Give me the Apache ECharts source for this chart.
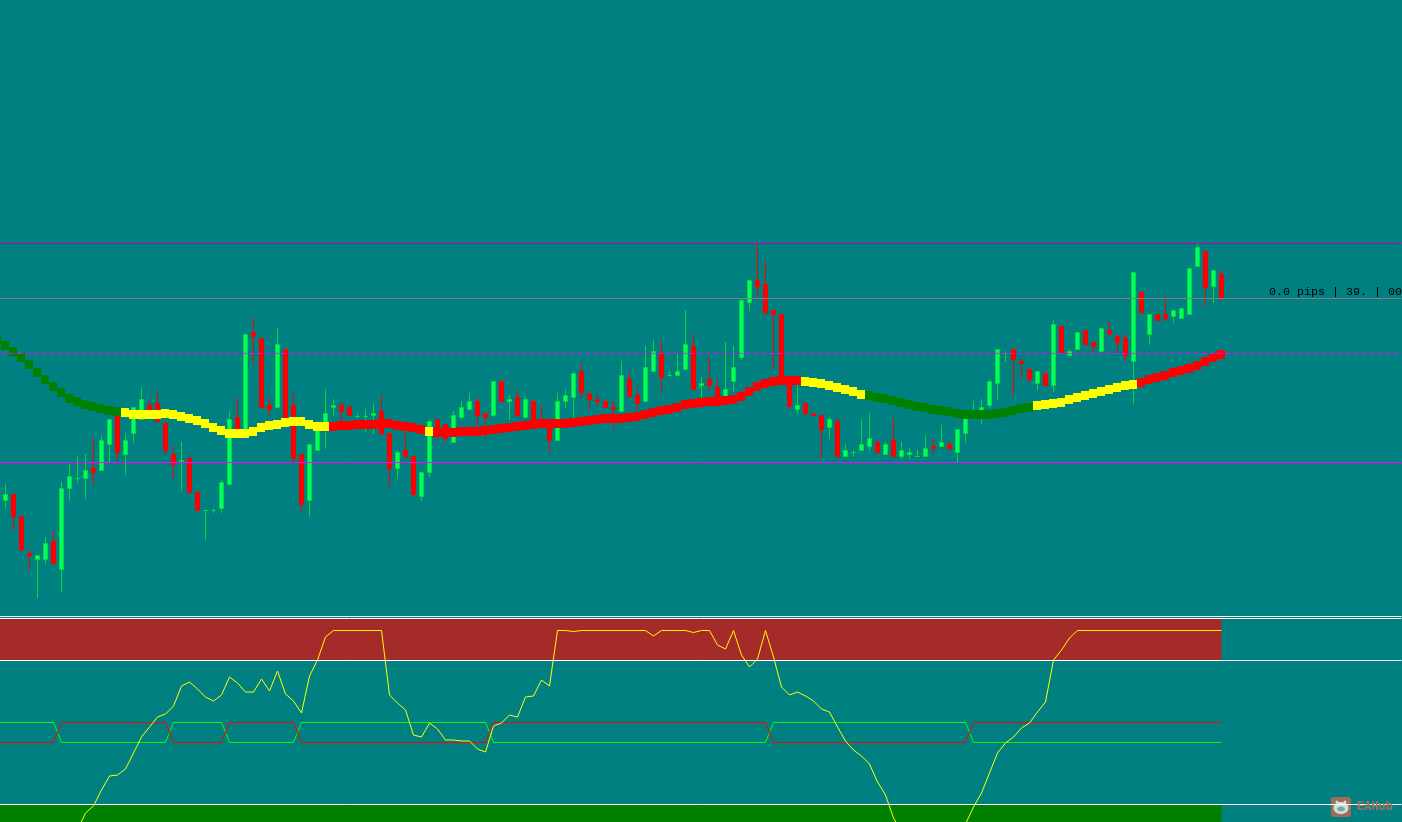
<!DOCTYPE html>
<html>
<head>
<meta charset="utf-8">
<style>html,body{margin:0;padding:0;background:#008080;overflow:hidden}#c{width:1402px;height:822px}</style>
<script src="https://cdn.jsdelivr.net/npm/echarts@6/dist/echarts.min.js"></script>
</head>
<body>
<div id="c"></div>
<script>
// Price in points above the foot of the price window: [open, close, low, high]
const candles = [
[115,122,107,132],[122,99,86,122],[100,66,64,100],[63,60,46,67],[56,61,18,61],[56,73,52,79],[75,52,52,85],[46,128,24,134],
[127,140,115,152],[138,138,133,160],[137,146,117,162],[148,143,131,178],[145,176,145,181],[171,197,154,197],[202,163,155,202],[161,176,141,183],
[182,209,173,209],[196,217,196,229],[211,198,198,215],[213,194,194,225],[193,165,161,195],[162,151,137,170],[154,156,125,174],[158,123,123,160],
[124,105,105,124],[106,106,76,106],[106,106,103,108],[107,134,103,136],[131,197,131,205],[199,181,181,219],[186,282,186,282],[284,279,252,298],
[278,208,208,278],[211,206,200,219],[208,272,208,288],[267,196,196,267],[211,157,154,223],[162,111,103,162],[115,172,99,172],[165,191,165,195],
[188,203,167,227],[208,211,200,217],[211,204,194,213],[209,200,200,211],[200,200,198,203],[200,200,184,207],[200,203,182,213],[205,182,180,221],
[183,147,129,183],[147,164,137,166],[166,159,157,183],[160,121,119,160],[119,144,115,144],[143,195,139,197],[197,179,175,197],[192,177,173,192],
[173,201,173,205],[198,209,196,215],[206,215,206,223],[215,200,188,219],[203,198,177,203],[200,235,200,235],[235,214,214,235],[214,217,196,221],
[219,200,198,225],[198,217,198,219],[215,189,189,215],[196,190,189,211],[192,175,163,192],[175,215,175,223],[214,221,208,227],[218,243,189,245],
[245,223,218,253],[223,216,206,223],[217,214,210,221],[215,208,208,215],[209,206,187,215],[204,241,204,255],[237,219,219,245],[221,212,199,229],
[214,249,214,270],[244,265,244,276],[263,238,223,276],[241,241,241,245],[240,245,240,262],[246,272,246,306],[270,226,226,282],[230,233,218,239],
[237,230,226,259],[229,219,219,237],[219,227,219,274],[234,249,224,270],[258,316,256,317],[313,336,305,336],[336,329,317,373],[332,303,301,356],
[306,301,247,306],[302,236,236,302],[236,209,207,236],[206,211,202,231],[213,202,200,213],[203,200,200,203],[201,186,157,201],[188,197,177,199],
[195,159,159,197],[159,166,159,172],[164,164,159,166],[165,172,165,197],[169,178,165,203],[174,163,163,176],[161,172,161,174],[176,159,159,197],
[159,166,157,174],[161,164,157,168],[160,160,160,166],[159,168,159,181],[170,167,163,178],[169,174,169,191],[172,167,165,174],[163,187,154,187],
[182,199,173,199],[199,203,196,215],[197,209,192,217],[210,235,208,237],[232,267,216,267],[263,263,254,265],[267,256,220,267],[255,252,238,257],
[247,236,234,247],[232,245,226,245],[243,230,230,243],[230,292,224,296],[290,263,263,290],[260,265,260,267],[266,284,266,284],[286,271,271,286],
[274,269,264,274],[264,288,264,288],[286,281,281,294],[280,273,262,282],[278,260,254,282],[254,344,212,344],[324,303,303,324],[281,302,271,302],
[302,295,295,302],[302,297,295,320],[299,306,293,306],[297,308,297,308],[301,348,301,348],[349,369,349,372],[365,328,309,365],[329,346,313,346],
[342,317,315,346]
];
// Moving average: the first value belongs to the bar just off the left edge
const movingAverage = [
276.5,270.5,264.5,258.5,251.5,243.5,236.5,229.5,223.5,217.5,214.5,211.5,209.5,207.5,205.5,204.5,
203.5,201.5,201.5,201.5,201.5,202.5,201.5,199.5,197.5,195.5,192.5,188.5,185.5,182.5,182.5,182.5,
184.5,188.5,190.5,191.5,193.5,194.5,194.5,191.5,189.5,189.5,189.5,190.5,190.5,191.5,191.5,191.5,
192.5,192.5,190.5,189.5,188.5,186.5,184.5,183.5,184.5,183.5,184.5,184.5,184.5,185.5,186.5,187.5,
188.5,189.5,190.5,191.5,192.5,192.5,192.5,192.5,193.5,194.5,195.5,196.5,197.5,197.5,197.5,198.5,
199.5,201.5,203.5,205.5,206.5,208.5,211.5,212.5,213.5,214.5,214.5,215.5,216.5,219.5,224.5,229.5,
232.5,234.5,235.5,235.5,235.5,234.5,233.5,232.5,230.5,228.5,226.5,224.5,221.5,220.5,218.5,217.5,
215.5,213.5,211.5,209.5,208.5,206.5,205.5,204.5,202.5,201.5,201.5,201.5,201.5,202.5,203.5,205.5,
207.5,208.5,210.5,211.5,212.5,213.5,216.5,218.5,220.5,222.5,224.5,226.5,228.5,230.5,231.5,233.5,
236.5,238.5,240.5,243.5,245.5,247.5,250.5,254.5,258.5,261.5
];
// Last bar index (0 = first full candle) of each moving-average colour run
const maRuns = [[14,'#008000'],[40,'#FFFF00'],[52,'#FF0000'],[53,'#FFFF00'],[99,'#FF0000'],[107,'#FFFF00'],[128,'#008000'],[141,'#FFFF00'],[152,'#FF0000']];
// Horizontal price levels
const levelTop = 372.5, levelGray = 317.5, levelDashed = 262.5, levelSolid = 153.5;

// Oscillator, in points above the foot of the sub-window; '-' = off the window
const oscillator = [
'-','-','-','-','-','-','-','-','-',-8,9,16,32,46,47,53,69,85,95,105,108,116,136,140,133,125,121,127,145,139,130,130,
143,131,151,128,121,109,146,162,185,191.5,191.5,191.5,191.5,191.5,191.5,191.5,127,119,112,87,85,99,93,82,82,81,81,73,70,96,99,107,
105,125,126,142,136,191.5,191.5,190.5,191.5,191.5,191.5,191.5,191.5,191.5,191.5,191.5,191.5,186,191.5,191.5,191.5,191.5,189.5,191.5,191.5,177,173,191.5,167,155,163,191.5,
165,135,127,130,126,121,113,110,95,81,72,66,58,40,27,4,-10,'-','-','-','-','-','-',-13,-2,15,29,49,69,79,85,94,
99,110,120,162,172,184,191.5,191.5,191.5,191.5,191.5,191.5,191.5,191.5,191.5,191.5,191.5,191.5,191.5,191.5,191.5,191.5,191.5,191.5,191.5
];
const H = 99.5, L = 79.5;
const signalGreen = [
H,H,H,H,H, H,H,L,L,L, L,L,L,L,L, L,L,L,L,L, L,H,H,H,H, H,H,H,L,L,
L,L,L,L,L, L,L,H,H,H, H,H,H,H,H, H,H,H,H,H, H,H,H,H,H, H,H,H,H,H,
H,L,L,L,L, L,L,L,L,L, L,L,L,L,L, L,L,L,L,L, L,L,L,L,L, L,L,L,L,L,
L,L,L,L,L, L,H,H,H,H, H,H,H,H,H, H,H,H,H,H, H,H,H,H,H, H,H,H,H,H,
H,L,L,L,L, L,L,L,L,L, L,L,L,L,L, L,L,L,L,L, L,L,L,L,L, L,L,L,L,L,
L,L,L
];
const signalRed = signalGreen.map(function (v) { return v === H ? L : H; });
// Sub-window levels and zones
const zoneHighTop = 203, zoneHighFoot = 162, zoneLowTop = 17, zoneLowFoot = 0;
const levelLines = [205.5, 203.5, 161.5, 17.5];

const barCount = 176;                // one bar off the left edge, 153 drawn, blank shift to the right
const categories = [];
for (let i = 0; i < barCount; i++) categories.push(String(i));
function pad(list, lead, blank) {
  const out = lead.slice().concat(list);
  while (out.length < barCount) out.push(blank);
  return out;
}
function maColor(p) {
  const bar = p.dataIndex - 1;
  for (const run of maRuns) if (bar <= run[0]) return run[1];
  return '#FF0000';
}
function flatLines(values, color, width, type) {
  return {
    silent: true, symbol: 'none', animation: false, label: { show: false },
    lineStyle: { color: color, width: width, type: type, opacity: 1 },
    emphasis: { disabled: true },
    data: values.map(function (v) { return { yAxis: v }; })
  };
}
// Keep the 1px candle outline inside the body's own range
function insetBody(c) {
  if (c[0] === c[1]) return [c[0] - 0.5, c[1] - 0.5, c[2], c[3]];
  return c[1] > c[0] ? [c[0] + 0.5, c[1] - 0.5, c[2], c[3]] : [c[0] - 0.5, c[1] + 0.5, c[2], c[3]];
}
const blankBar = ['-', '-', '-', '-'];
const chart = echarts.init(document.getElementById('c'), null, { renderer: 'canvas' });
chart.setOption({
  animation: false,
  backgroundColor: '#008080',
  grid: [
    { left: -6.5, top: 0, width: 1408, height: 616, outerBoundsMode: 'none' },
    { left: -6.5, top: 616, width: 1408, height: 206, outerBoundsMode: 'none' }
  ],
  xAxis: [
    { type: 'category', data: categories, gridIndex: 0, show: false },
    { type: 'category', data: categories, gridIndex: 1, show: false }
  ],
  yAxis: [
    { type: 'value', min: 0, max: 616, gridIndex: 0, show: false },
    { type: 'value', min: 0, max: 206, gridIndex: 1, show: false }
  ],
  series: [
    { name: 'gray level', type: 'line', data: [], z: 1, xAxisIndex: 0, yAxisIndex: 0,
      markLine: flatLines([levelGray], '#808080', 1, 'solid') },
    { name: 'price', type: 'candlestick', z: 2, xAxisIndex: 0, yAxisIndex: 0, barWidth: 5,
      data: pad(candles.map(insetBody), [blankBar], blankBar),
      itemStyle: { color: '#00FF66', color0: '#FF0000', borderColor: '#00DC32', borderColor0: '#FF0000', borderColorDoji: '#00DC32', borderWidth: 1 } },
    { name: 'top level', type: 'line', data: [], z: 3, xAxisIndex: 0, yAxisIndex: 0,
      markLine: flatLines([levelTop], '#C000C0', 1, 'solid') },
    { name: 'solid level', type: 'line', data: [], z: 3, xAxisIndex: 0, yAxisIndex: 0,
      markLine: flatLines([levelSolid], '#FF00FF', 1, 'solid') },
    { name: 'dashed level', type: 'line', data: [], z: 3, xAxisIndex: 0, yAxisIndex: 0,
      markLine: flatLines([levelDashed], '#FF00FF', 1, [5, 3]) },
    { name: 'moving average', type: 'scatter', z: 4, xAxisIndex: 0, yAxisIndex: 0,
      symbol: 'rect', symbolSize: [8, 9], symbolOffset: [-0.5, 0],
      data: pad(movingAverage, [], '-'), itemStyle: { color: maColor, opacity: 1 } },

    { name: 'zones', type: 'line', data: [], z: 1, xAxisIndex: 1, yAxisIndex: 1,
      markArea: { silent: true, animation: false, itemStyle: { opacity: 1 }, data: [
        [{ xAxis: 0, yAxis: zoneHighTop, itemStyle: { color: '#A52A2A' } }, { xAxis: 153, yAxis: zoneHighFoot }],
        [{ xAxis: 0, yAxis: zoneLowTop, itemStyle: { color: '#008000' } }, { xAxis: 153, yAxis: zoneLowFoot }]
      ] } },
    { name: 'levels', type: 'line', data: [], z: 2, xAxisIndex: 1, yAxisIndex: 1,
      markLine: flatLines(levelLines, '#FFFFFF', 1, 'solid') },
    { name: 'signal green', type: 'line', z: 3, xAxisIndex: 1, yAxisIndex: 1, symbol: 'none',
      data: pad(signalGreen, [H], '-'), lineStyle: { color: '#00FF00', width: 1 } },
    { name: 'signal red', type: 'line', z: 3, xAxisIndex: 1, yAxisIndex: 1, symbol: 'none',
      data: pad(signalRed, [L], '-'), lineStyle: { color: '#FF0000', width: 1 } },
    { name: 'oscillator', type: 'line', z: 4, xAxisIndex: 1, yAxisIndex: 1, symbol: 'none',
      data: pad(oscillator, ['-'], '-'), lineStyle: { color: '#FFFF00', width: 1 } }
  ],
  graphic: [
    { type: 'text', z: 50, left: 1269, top: 286,
      style: { text: '0.0 pips | 39. | 00', fill: '#000000', font: '11.67px "Liberation Mono", monospace' } },
    { type: 'group', z: 60, left: 1331, top: 797, children: [
      { type: 'rect', shape: { x: 0, y: 0, width: 20, height: 20, r: 3 }, style: { fill: '#C0664F', opacity: 0.85 } },
      { type: 'circle', shape: { cx: 6, cy: 5, r: 1.5 }, style: { fill: '#C9E3E0' } },
      { type: 'circle', shape: { cx: 14, cy: 5, r: 1.5 }, style: { fill: '#C9E3E0' } },
      { type: 'ellipse', shape: { cx: 10, cy: 11, rx: 7.5, ry: 6 }, style: { fill: '#C9E3E0' } },
      { type: 'ellipse', shape: { cx: 10, cy: 12, rx: 4, ry: 2.5 }, style: { fill: '#7FA6A2' } }
    ] },
    { type: 'text', z: 60, left: 1357, top: 801,
      style: { text: 'EAHub', fill: '#A9705F', font: 'bold 12px "Liberation Mono", monospace' } }
  ]
});
</script>
</body>
</html>
